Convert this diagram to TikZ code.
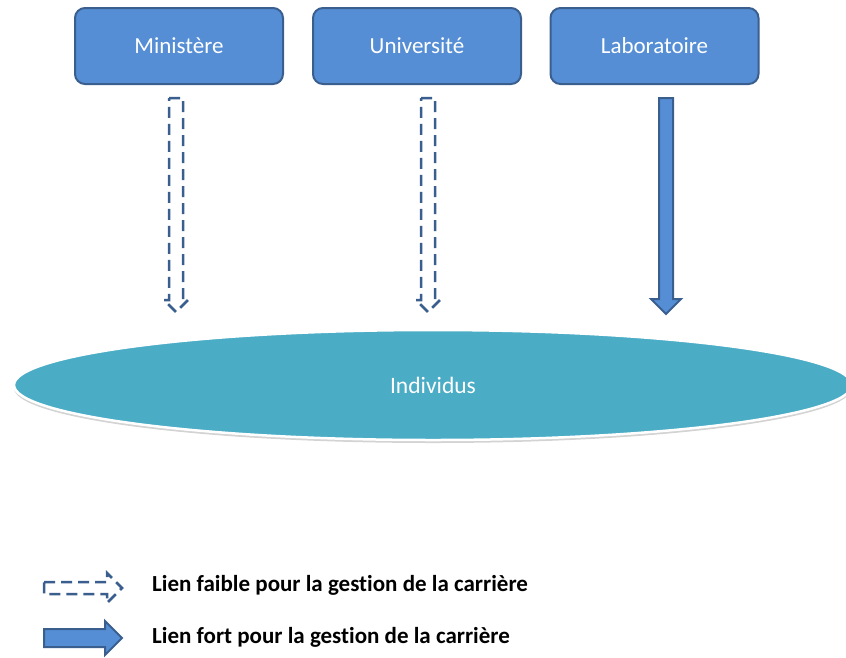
\documentclass[tikz,border=0pt]{standalone}
\usepackage{fontspec}
\setmainfont{Carlito}[Ligatures={NoCommon,NoRare}]
\usetikzlibrary{shadows,calc,shapes.geometric}
\definecolor{boxfill}{HTML}{558ED5}
\definecolor{boxline}{HTML}{3A5F8F}
\definecolor{ellfill}{HTML}{4BACC6}
\tikzset{
  topbox/.style={draw=boxline, line width=2pt, fill=boxfill, rounded corners=10pt,
    minimum width=208pt, minimum height=76pt, text=white, font=\fontsize{23}{27}\selectfont, inner sep=0pt},
  ellnode/.style={draw=white, line width=2.5pt, fill=ellfill, ellipse, minimum width=838pt, minimum height=110pt,
    text=white, font=\fontsize{23.5}{27}\selectfont,
    drop shadow={shadow xshift=0pt, shadow yshift=-3pt, opacity=0.35, fill=gray}},
  weakarrow/.style={draw=boxline, line width=2.5pt, dash pattern=on 11pt off 6pt, fill=white, line join=miter},
  strongarrow/.style={draw=boxline, line width=2pt, fill=boxfill, line join=miter},
  legendtext/.style={anchor=west, font=\bfseries\fontsize{23}{27}\selectfont, text=black, inner sep=0pt}
}
\begin{document}
\begin{tikzpicture}[x=1pt,y=-1pt]
\useasboundingbox (0,0) rectangle (846,657);
\node[topbox] (min) at (179,46) {Ministère};
\node[topbox] (uni) at (417,46) {Université};
\node[topbox] (lab) at (654.5,46) {Laboratoire};
\node[ellnode] (ind) at (433,385) {Individus};
% weak arrow Ministere -> Individus
\coordinate (m1) at (176,98);
\coordinate (m2) at (176,312);
\draw[weakarrow] ($(m1)+(-7,0)$) -- ($(m1)+(7,0)$) -- ($(m2)+(7,-12)$) -- ($(m2)+(12,-12)$) -- (m2) -- ($(m2)+(-12,-12)$) -- ($(m2)+(-7,-12)$) -- cycle;
% weak arrow Universite -> Individus
\coordinate (u1) at (428,98);
\coordinate (u2) at (428,312);
\draw[weakarrow] ($(u1)+(-7,0)$) -- ($(u1)+(7,0)$) -- ($(u2)+(7,-12)$) -- ($(u2)+(12,-12)$) -- (u2) -- ($(u2)+(-12,-12)$) -- ($(u2)+(-7,-12)$) -- cycle;
% strong arrow Laboratoire -> Individus
\coordinate (l1) at (666,98);
\coordinate (l2) at (666,314);
\draw[strongarrow] ($(l1)+(-7,0)$) -- ($(l1)+(7,0)$) -- ($(l2)+(7,-15)$) -- ($(l2)+(15,-15)$) -- (l2) -- ($(l2)+(-15,-15)$) -- ($(l2)+(-7,-15)$) -- cycle;
% legend
\coordinate (wa) at (44,588);
\coordinate (wb) at (122,588);
\draw[weakarrow] ($(wa)+(0,-6)$) -- ($(wb)+(-15,-6)$) -- ($(wb)+(-15,-15)$) -- (wb) -- ($(wb)+(-15,15)$) -- ($(wb)+(-15,6)$) -- ($(wa)+(0,6)$) -- cycle;
\coordinate (sa) at (44,638);
\coordinate (sb) at (122,638);
\draw[strongarrow] ($(sa)+(0,-9)$) -- ($(sb)+(-17,-9)$) -- ($(sb)+(-17,-17)$) -- (sb) -- ($(sb)+(-17,17)$) -- ($(sb)+(-17,9)$) -- ($(sa)+(0,9)$) -- cycle;
\node[legendtext] (lw) at (152,585) {Lien faible pour la gestion de la carrière};
\node[legendtext] (ls) at (152,637) {Lien fort pour la gestion de la carrière};
\end{tikzpicture}
\end{document}
